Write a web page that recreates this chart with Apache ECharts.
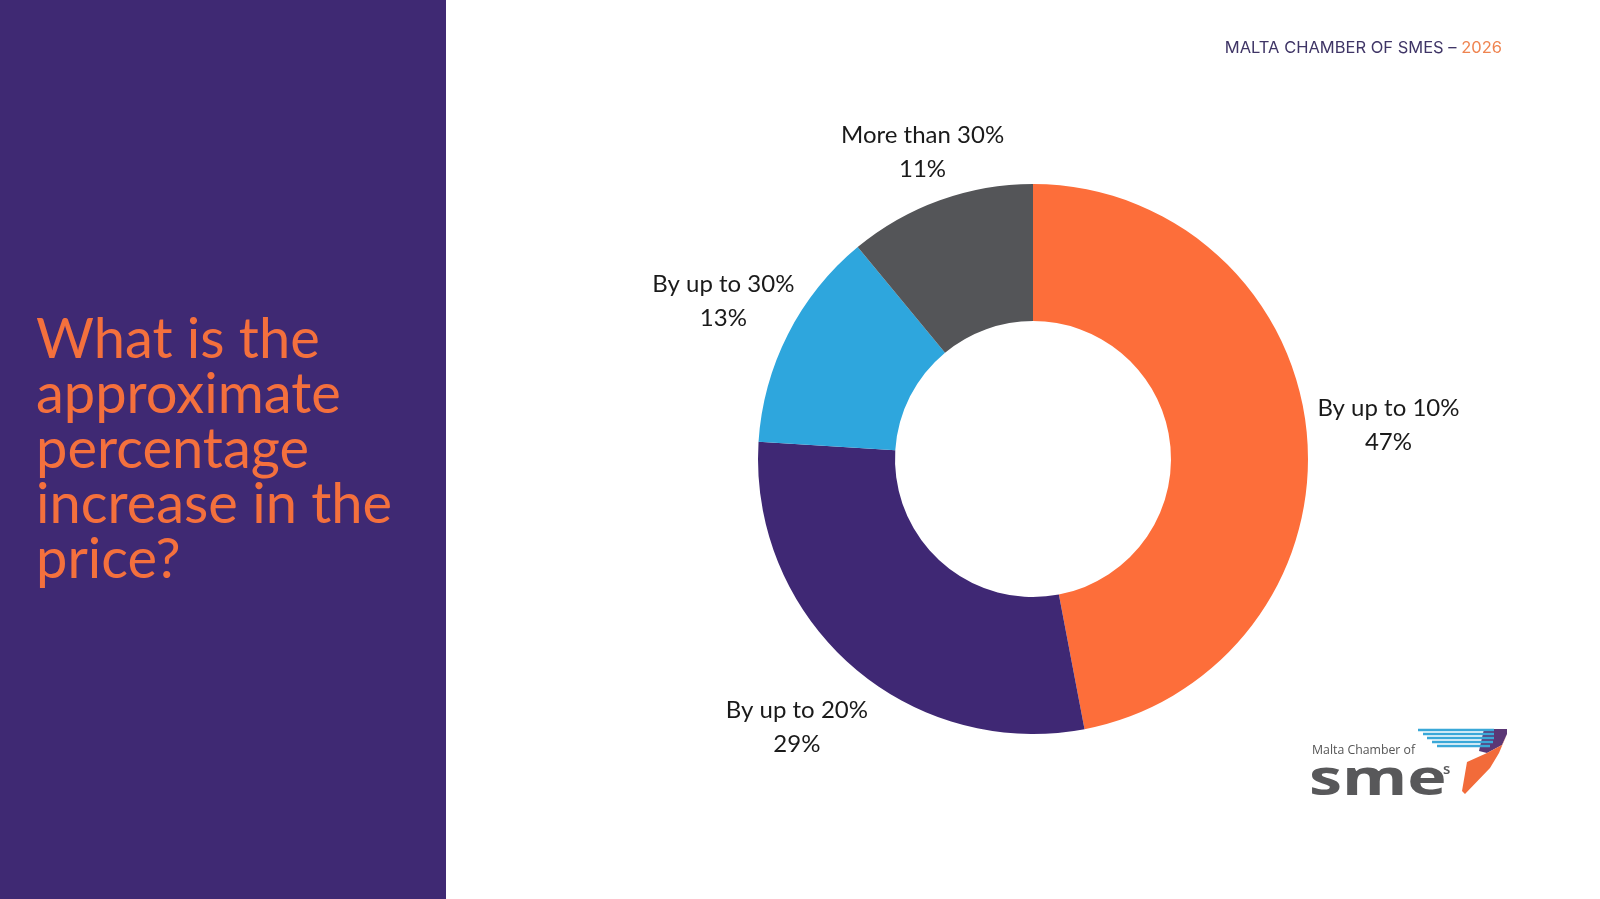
<!DOCTYPE html>
<html>
<head>
<meta charset="utf-8">
<style>
  html, body { margin: 0; padding: 0; background: #fff; }
  #chart { width: 1600px; height: 899px; }
</style>
<script src="https://cdn.jsdelivr.net/npm/echarts@6/dist/echarts.min.js"></script>
</head>
<body>
<div id="chart"></div>
<script>
// survey answers and shares (%)
var categories = ['By up to 10%', 'By up to 20%', 'By up to 30%', 'More than 30%'];
var shares = [47, 29, 13, 11];
var colors = ['#fd6e3a', '#3f2874', '#2ea6dd', '#545558'];

var question = 'What is the\napproximate\npercentage\nincrease in the\nprice?';

var pieCenter = [1033, 459];
var outerR = 275;
var labelGap = 11;
var labelFont = '24px Lato, "Noto Sans", sans-serif';
var labelLineHeight = 34;

var total = shares.reduce(function (a, b) { return a + b; }, 0);
var measureCtx = document.createElement('canvas').getContext('2d');
measureCtx.font = labelFont;

// nearest distance from the pie centre to the label's text lines,
// with the label centred at (px, py) relative to the centre
function labelDistance(lines, px, py) {
    var best = Infinity;
    lines.forEach(function (line, i) {
        var hw = measureCtx.measureText(line).width / 2;
        var ly = py + (i - (lines.length - 1) / 2) * labelLineHeight;
        var dx = Math.max(Math.abs(px) - hw, 0);
        var dy = Math.max(Math.abs(ly) - labelLineHeight / 2, 0);
        if (Math.abs(ly) < labelLineHeight / 2) dy = 0;
        best = Math.min(best, Math.sqrt(dx * dx + dy * dy));
    });
    return best;
}

// place each label just outside the ring, along the slice's mid-angle
function placeLabel(params) {
    var before = 0;
    for (var i = 0; i < params.dataIndex; i++) before += shares[i];
    var frac = (before + shares[params.dataIndex] / 2) / total;
    var ux = Math.sin(frac * 2 * Math.PI);
    var uy = -Math.cos(frac * 2 * Math.PI);
    var lines = params.text.split('\n');
    var d = outerR;
    while (d < outerR * 3 && labelDistance(lines, ux * d, uy * d) < outerR + labelGap) {
        d += 0.5;
    }
    return {
        x: pieCenter[0] + ux * d,
        y: pieCenter[1] + uy * d,
        align: 'center',
        verticalAlign: 'middle'
    };
}

var chart = echarts.init(document.getElementById('chart'));

var option = {
    backgroundColor: '#ffffff',
    animation: false,
    graphic: [
        // left panel
        { type: 'rect', left: 0, top: 0, shape: { width: 446, height: 899 }, style: { fill: '#3f2973' }, z: 0 },
        {
            type: 'text', left: 36, top: 312,
            style: {
                text: question,
                fill: '#f4703d',
                font: '56px Lato, "Noto Sans", sans-serif',
                lineHeight: 55
            }
        },
        // header
        {
            type: 'text', right: 98, top: 40,
            style: {
                text: '{a|MALTA CHAMBER OF SMES – }{b|2026}',
                rich: {
                    a: { fill: '#3f3566', font: '16.5px Inter, Roboto, sans-serif' },
                    b: { fill: '#ef8450', font: '16.5px Inter, Roboto, sans-serif' }
                }
            }
        },
        // logo
        {
            type: 'group', x: 1300, y: 725,
            children: [
                { type: 'polygon', shape: { points: [[184, 4], [207, 4], [207, 9], [202, 20], [187, 28], [179, 26]] }, style: { fill: '#5b3775' } },
                { type: 'polygon', shape: { points: [[207, 9], [199, 28], [190, 43], [165, 69], [162, 66], [167, 37], [187, 28], [202, 20]] }, style: { fill: '#f26b3a' } },
                { type: 'line', shape: { x1: 118, y1: 5, x2: 194, y2: 5 }, style: { stroke: '#3aa8d8', lineWidth: 2.5 } },
                { type: 'line', shape: { x1: 123, y1: 9, x2: 194, y2: 9 }, style: { stroke: '#3aa8d8', lineWidth: 2.5 } },
                { type: 'line', shape: { x1: 127, y1: 13, x2: 194, y2: 13 }, style: { stroke: '#3aa8d8', lineWidth: 2.5 } },
                { type: 'line', shape: { x1: 132, y1: 17, x2: 193, y2: 17 }, style: { stroke: '#3aa8d8', lineWidth: 2.5 } },
                { type: 'line', shape: { x1: 137, y1: 21, x2: 190, y2: 21 }, style: { stroke: '#3aa8d8', lineWidth: 2.5 } },
                {
                    type: 'text', x: 12, y: 25,
                    style: { text: 'Malta Chamber of', fill: '#555', font: '12.3px "Open Sans", Lato, sans-serif', verticalAlign: 'middle' }
                },
                {
                    type: 'text', x: 9, y: 56, scaleX: 1.33,
                    style: { text: 'sme', fill: '#58585a', font: 'bold 50px "Open Sans", Lato, sans-serif', verticalAlign: 'middle' }
                },
                {
                    type: 'text', x: 143, y: 45,
                    style: { text: 's', fill: '#58585a', font: '600 15px "Open Sans", Lato, sans-serif', verticalAlign: 'middle' }
                }
            ]
        }
    ],
    series: [
        {
            type: 'pie',
            center: pieCenter,
            radius: [138, outerR],
            startAngle: 90,
            silent: true,
            label: {
                show: true,
                position: 'inside',
                formatter: '{b}\n{c}%',
                color: '#1a1a1a',
                fontSize: 24,
                lineHeight: labelLineHeight,
                fontFamily: 'Lato, "Noto Sans", sans-serif'
            },
            labelLine: { show: false },
            labelLayout: placeLabel,
            data: categories.map(function (name, i) {
                return { name: name, value: shares[i], itemStyle: { color: colors[i] } };
            })
        }
    ]
};

chart.setOption(option);
</script>
</body>
</html>
